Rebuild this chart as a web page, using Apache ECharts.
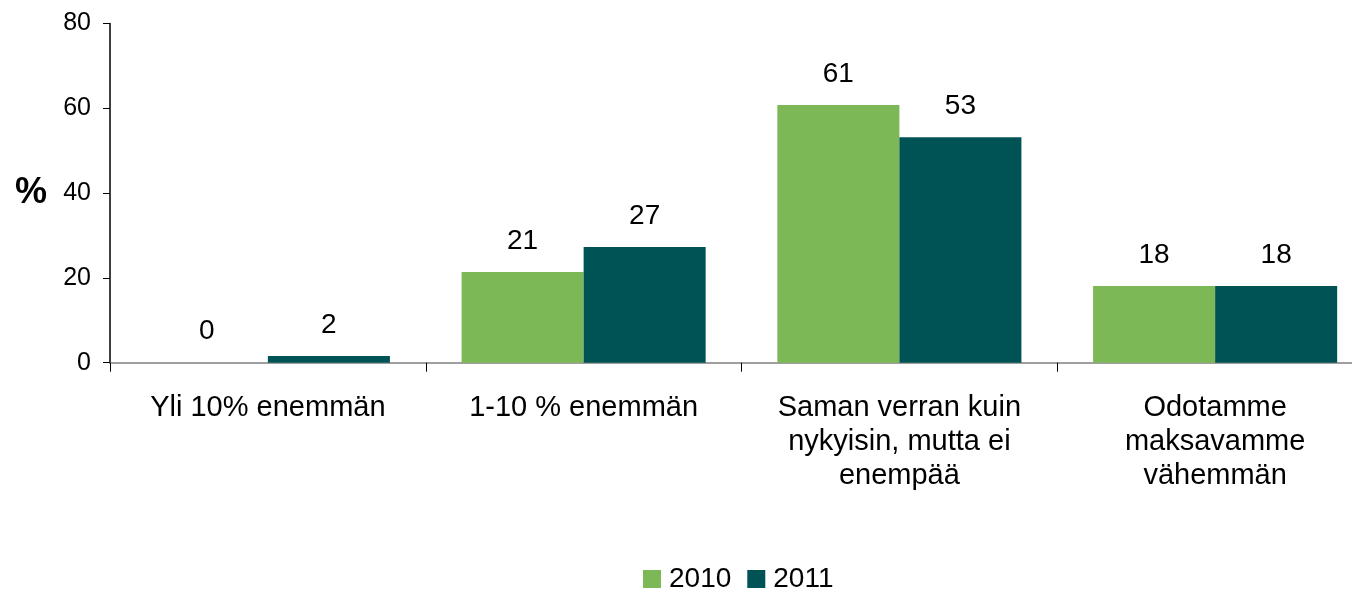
<!DOCTYPE html>
<html>
<head>
    <meta charset="utf-8" />
    <title></title>
    <script src="https://cdn.jsdelivr.net/npm/echarts@6/dist/echarts.min.js"></script>
</head>
<body style="margin:0;">
    <div id="main" style="width: 1352px;height:590px;"></div>
<script type="text/javascript">
    var categories = ['Yli 10% enemmän', '1-10 % enemmän', 'Saman verran kuin\nnykyisin, mutta ei\nenempää', 'Odotamme\nmaksavamme\nvähemmän'];
    var values2010 = [0, 21.4, 60.8, 18.1];
    var values2011 = [1.6, 27.3, 53.2, 18.1];
    var yTicks = [0, 20, 40, 60, 80];

    var myChart = echarts.init(document.getElementById('main'));
    var font = 'Liberation Sans, Arial, sans-serif';
    var barLabel = {
        show: true,
        position: 'top',
        distance: 17,
        fontSize: 28,
        fontFamily: font,
        color: '#000',
        formatter: function (p) { return Math.round(p.value); }
    };
    var option = {
        animation: false,
        // plot runs past the right edge, as in the original picture
        grid: { left: 110, width: 1263, top: 23.5, bottom: 227.3, containLabel: false, outerBoundsMode: 'none' },
        legend: {
            top: 560,
            left: 638,
            itemWidth: 18,
            itemHeight: 18,
            itemGap: 16,
            icon: 'rect',
            textStyle: { fontSize: 28, fontFamily: font, color: '#000', padding: [0, 0, 0, 3] },
            data: ['2010', '2011']
        },
        xAxis: {
            type: 'category',
            data: categories,
            axisLine: { lineStyle: { color: '#808080', width: 1.5 } },
            axisTick: { show: true, length: 9, lineStyle: { color: '#000' } },
            axisLabel: { fontSize: 29, fontFamily: font, color: '#000', margin: 28, lineHeight: 34, interval: 0 }
        },
        yAxis: {
            type: 'value',
            min: yTicks[0],
            max: yTicks[yTicks.length - 1],
            interval: 20,
            name: '%',
            nameLocation: 'middle',
            nameRotate: 0,
            nameGap: 63,
            nameTextStyle: { fontSize: 36, fontWeight: 'bold', fontFamily: font, color: '#000' },
            splitLine: { show: false },
            axisLine: { show: true, lineStyle: { color: '#000', width: 1.5 } },
            axisTick: { show: true, length: 7, lineStyle: { color: '#000' } },
            axisLabel: { fontSize: 25, fontFamily: font, color: '#000', margin: 19 }
        },
        series: [
            {
                name: '2010',
                type: 'bar',
                data: values2010,
                barGap: '0%',
                barCategoryGap: '22.7%',
                itemStyle: { color: '#7db857' },
                label: barLabel
            },
            {
                name: '2011',
                type: 'bar',
                data: values2011,
                itemStyle: { color: '#005355' },
                label: barLabel
            }
        ]
    };
    myChart.setOption(option);
</script>
</body>
</html>
